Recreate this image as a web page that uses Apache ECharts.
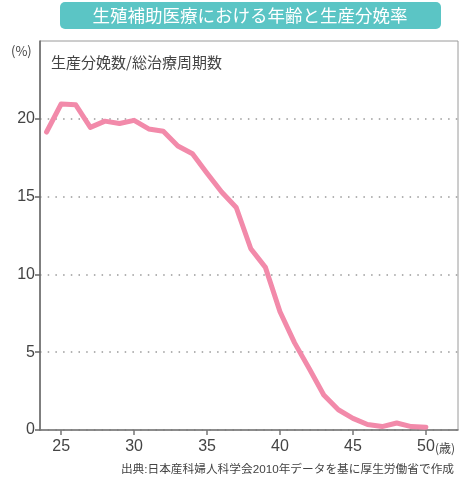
<!DOCTYPE html>
<html>
<head>
<meta charset="utf-8">
<script src="https://cdn.jsdelivr.net/npm/echarts@6/dist/echarts.min.js"></script>
<style>
html,body{margin:0;padding:0;background:#fff;}
#c{width:461px;height:485px;}
</style>
</head>
<body>
<div id="c"></div>
<script>
const ages = [24,25,26,27,28,29,30,31,32,33,34,35,36,37,38,39,40,41,42,43,44,45,46,47,48,49,50];
const rates = [19.15,20.95,20.9,19.45,19.85,19.7,19.9,19.35,19.2,18.25,17.75,16.5,15.3,14.3,11.65,10.45,7.6,5.6,3.95,2.25,1.3,0.75,0.35,0.22,0.45,0.22,0.18];
const xTicks = [25,30,35,40,45,50];
const yTicks = [0,5,10,15,20];
const title = '生殖補助医療における年齢と生産分娩率';
const subtitle = '生産分娩数/総治療周期数';
const source = '出典:日本産科婦人科学会2010年データを基に厚生労働省で作成';

const FONT = "'Noto Sans CJK JP', sans-serif";
const NUMFONT = "'Liberation Sans', 'Noto Sans CJK JP', sans-serif";
const chart = echarts.init(document.getElementById('c'), null, {renderer: 'canvas'});
chart.setOption({
  animation: false,
  backgroundColor: '#fff',
  grid: {left: 40, right: 3, top: 41, bottom: 55, show: true, borderColor: '#9a9a9a', borderWidth: 1, backgroundColor: 'transparent'},
  xAxis: {
    type: 'value', min: 23.55, max: 52.2,
    axisLine: {show: true, onZero: false, lineStyle: {color: '#777', width: 1.5}},
    axisTick: {show: true, customValues: xTicks, length: 5, lineStyle: {color: '#777', width: 1.5}},
    axisLabel: {show: true, customValues: xTicks, color: '#444', fontSize: 16, fontFamily: NUMFONT, margin: 9},
    splitLine: {show: false}
  },
  yAxis: {
    type: 'value', min: 0, max: 25, interval: 5,
    axisLine: {show: true, lineStyle: {color: '#666', width: 1.5}},
    axisTick: {show: true, customValues: yTicks, length: 5, lineStyle: {color: '#666', width: 1.5}},
    axisLabel: {show: true, customValues: yTicks, color: '#444', fontSize: 16, fontFamily: NUMFONT, margin: 5},
    splitLine: {show: true, lineStyle: {color: '#999', width: 1.5, type: [1.5, 6.2]}}
  },
  series: [{
    type: 'line',
    data: ages.map((a, i) => [a, rates[i]]),
    symbol: 'none',
    lineStyle: {color: '#F28AAA', width: 5, join: 'round', cap: 'round'},
    z: 5
  }],
  graphic: [
    {type: 'rect', shape: {x: 60, y: 2, width: 381, height: 27, r: 5}, style: {fill: '#5BC5C5'}},
    {type: 'text', x: 250, y: 15.5, style: {text: title, fill: '#fff', fontSize: 17.5, fontFamily: FONT, align: 'center', verticalAlign: 'middle'}},
    {type: 'text', x: 11, y: 51, style: {text: '(%)', fill: '#444', fontSize: 13, fontFamily: FONT, align: 'left', verticalAlign: 'middle'}},
    {type: 'text', x: 51, y: 62, style: {text: subtitle, fill: '#444', fontSize: 15, fontFamily: FONT, align: 'left', verticalAlign: 'middle'}},
    {type: 'text', x: 435, y: 448, style: {text: '(歳)', fill: '#444', fontSize: 12, fontFamily: FONT, align: 'left', verticalAlign: 'middle'}},
    {type: 'text', x: 454, y: 470, style: {text: source, fill: '#444', fontSize: 11.7, fontFamily: NUMFONT, align: 'right', verticalAlign: 'middle'}}
  ]
});
</script>
</body>
</html>
